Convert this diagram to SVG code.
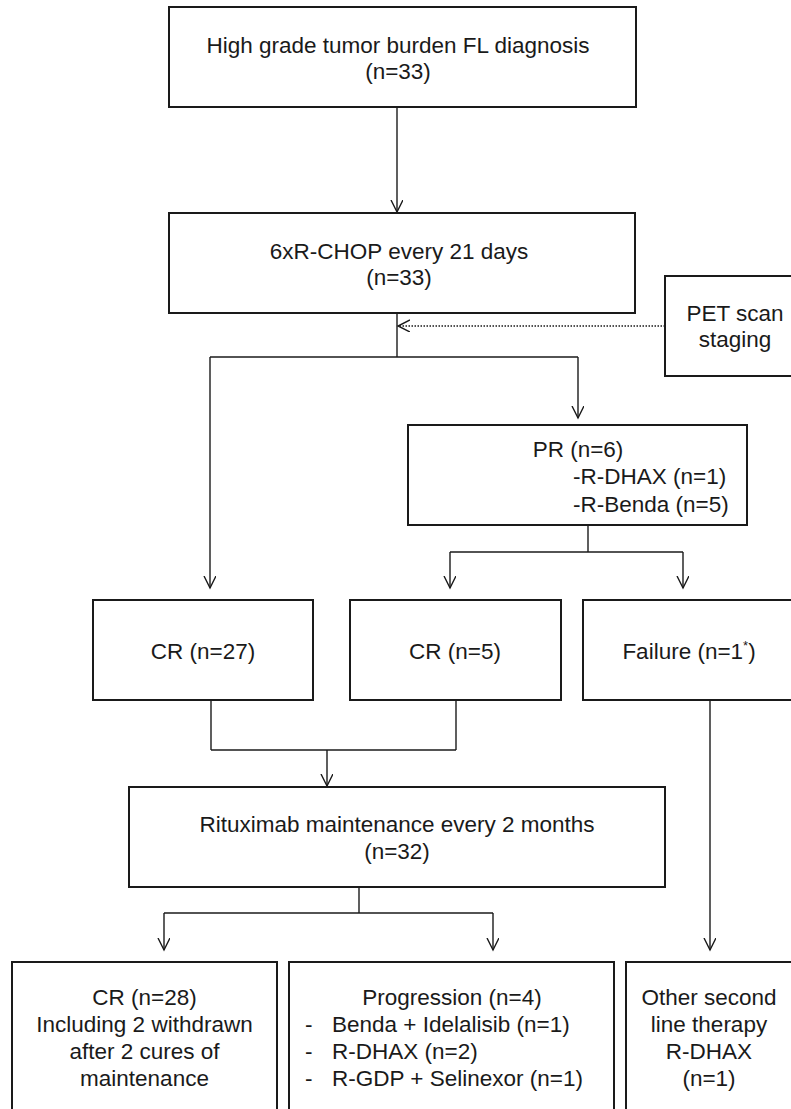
<svg xmlns="http://www.w3.org/2000/svg" width="791" height="1109" viewBox="0 0 791 1109">
<defs>
<style>
.box{fill:#fff;stroke:#1a1a1a;stroke-width:2}
.t{font-family:"Liberation Sans",Arial,sans-serif;font-size:22.5px;fill:#1a1a1a}
.m{text-anchor:middle}
.c{fill:none;stroke:#1a1a1a;stroke-width:1.4}
.d{fill:none;stroke:#1a1a1a;stroke-width:1.4;stroke-dasharray:1.5 1.5}
</style>
<marker id="ah" markerWidth="14" markerHeight="14" refX="12" refY="6" orient="auto" markerUnits="userSpaceOnUse">
<path d="M0,0 L12,6 L0,12" fill="none" stroke="#1a1a1a" stroke-width="1.4"/>
</marker>
</defs>
<rect width="791" height="1109" fill="#fff"/>
<g id="connectors">
<line class="c" x1="397" y1="107" x2="397" y2="212" marker-end="url(#ah)"/>
<line class="c" x1="397" y1="313" x2="397" y2="357"/>
<line class="d" x1="665" y1="326" x2="398" y2="326" marker-end="url(#ah)"/>
<line class="c" x1="210" y1="357" x2="578" y2="357"/>
<line class="c" x1="210" y1="357" x2="210" y2="588" marker-end="url(#ah)"/>
<line class="c" x1="578" y1="357" x2="578" y2="418" marker-end="url(#ah)"/>
<line class="c" x1="588" y1="525" x2="588" y2="552"/>
<line class="c" x1="450" y1="552" x2="683" y2="552"/>
<line class="c" x1="450" y1="552" x2="450" y2="588" marker-end="url(#ah)"/>
<line class="c" x1="683" y1="552" x2="683" y2="588" marker-end="url(#ah)"/>
<line class="c" x1="211" y1="700" x2="211" y2="750"/>
<line class="c" x1="456" y1="700" x2="456" y2="750"/>
<line class="c" x1="211" y1="750" x2="456" y2="750"/>
<line class="c" x1="327" y1="750" x2="327" y2="786" marker-end="url(#ah)"/>
<line class="c" x1="710" y1="700" x2="710" y2="950" marker-end="url(#ah)"/>
<line class="c" x1="359" y1="887" x2="359" y2="913"/>
<line class="c" x1="164" y1="913" x2="493" y2="913"/>
<line class="c" x1="164" y1="913" x2="164" y2="950" marker-end="url(#ah)"/>
<line class="c" x1="493" y1="913" x2="493" y2="950" marker-end="url(#ah)"/>
</g>
<g id="n-diagnosis">
<rect class="box" x="169" y="7" width="467" height="100"/>
<text class="t m" x="398" y="53">High grade tumor burden FL diagnosis</text>
<text class="t m" x="398" y="79">(n=33)</text>
</g>
<g id="n-rchop">
<rect class="box" x="169" y="213" width="466" height="100"/>
<text class="t m" x="399" y="259">6xR-CHOP every 21 days</text>
<text class="t m" x="399" y="285">(n=33)</text>
</g>
<g id="n-pet">
<rect class="box" x="665" y="276" width="135" height="100"/>
<text class="t m" x="735" y="321">PET scan</text>
<text class="t m" x="735" y="347">staging</text>
</g>
<g id="n-pr">
<rect class="box" x="408" y="425" width="339" height="100"/>
<text class="t m" x="578" y="457">PR (n=6)</text>
<text class="t" x="573" y="484">-R-DHAX (n=1)</text>
<text class="t" x="573" y="512">-R-Benda (n=5)</text>
</g>
<g id="n-cr27">
<rect class="box" x="93" y="600" width="220" height="100"/>
<text class="t m" x="203" y="659">CR (n=27)</text>
</g>
<g id="n-cr5">
<rect class="box" x="350" y="600" width="211" height="100"/>
<text class="t m" x="455" y="659">CR (n=5)</text>
</g>
<g id="n-failure">
<rect class="box" x="583" y="600" width="217" height="100"/>
<text class="t m" x="689" y="659">Failure (n=1<tspan font-size="13" dy="-9">*</tspan><tspan dy="9">)</tspan></text>
</g>
<g id="n-ritux">
<rect class="box" x="129" y="787" width="536" height="100"/>
<text class="t m" x="397" y="832">Rituximab maintenance every 2 months</text>
<text class="t m" x="397" y="859">(n=32)</text>
</g>
<g id="n-cr28">
<rect class="box" x="12" y="962" width="265" height="160"/>
<text class="t m" x="144.5" y="1005">CR (n=28)</text>
<text class="t m" x="144.5" y="1032">Including 2 withdrawn</text>
<text class="t m" x="144.5" y="1059">after 2 cures of</text>
<text class="t m" x="144.5" y="1086">maintenance</text>
</g>
<g id="n-progression">
<rect class="box" x="289" y="962" width="325" height="160"/>
<text class="t m" x="452" y="1005">Progression (n=4)</text>
<text class="t" x="305" y="1032">-</text>
<text class="t" x="332" y="1032">Benda + Idelalisib (n=1)</text>
<text class="t" x="305" y="1059">-</text>
<text class="t" x="332" y="1059">R-DHAX (n=2)</text>
<text class="t" x="305" y="1086">-</text>
<text class="t" x="332" y="1086">R-GDP + Selinexor (n=1)</text>
</g>
<g id="n-other">
<rect class="box" x="626" y="962" width="174" height="160"/>
<text class="t m" x="709" y="1005">Other second</text>
<text class="t m" x="709" y="1032">line therapy</text>
<text class="t m" x="709" y="1059">R-DHAX</text>
<text class="t m" x="709" y="1086">(n=1)</text>
</g>
</svg>
